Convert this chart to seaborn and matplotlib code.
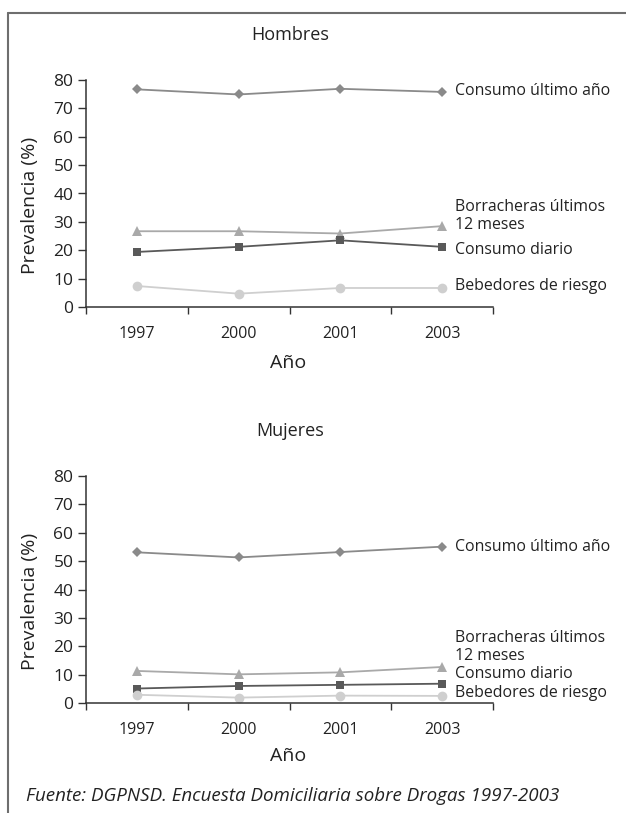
import pandas as pd
import matplotlib.pyplot as plt
import seaborn as sns
from matplotlib.lines import Line2D

# Data
years = ['1997', '2000', '2001', '2003']
series = ['Consumo último año', 'Borracheras últimos\n12 meses', 'Consumo diario', 'Bebedores de riesgo']

hombres_ultimo_ano = [76.7, 74.9, 76.9, 75.8]
hombres_borracheras = [26.7, 26.7, 25.9, 28.5]
hombres_diario = [19.4, 21.2, 23.5, 21.2]
hombres_riesgo = [7.4, 4.7, 6.7, 6.7]

mujeres_ultimo_ano = [53.1, 51.3, 53.2, 55.1]
mujeres_borracheras = [11.3, 10.1, 10.8, 12.7]
mujeres_diario = [5.1, 6.0, 6.4, 6.8]
mujeres_riesgo = [2.9, 1.9, 2.6, 2.5]

y_ticks = [0, 10, 20, 30, 40, 50, 60, 70, 80]


def long_table(vals):
    rows = []
    for name, v in zip(series, vals):
        for yr, val in zip(years, v):
            rows.append({'Año': yr, 'Serie': name, 'Prevalencia': val})
    return pd.DataFrame(rows)


df_h = long_table([hombres_ultimo_ano, hombres_borracheras, hombres_diario, hombres_riesgo])
df_m = long_table([mujeres_ultimo_ano, mujeres_borracheras, mujeres_diario, mujeres_riesgo])

sns.set_style('white')
plt.rcParams['font.family'] = ['Open Sans', 'DejaVu Sans']

palette = dict(zip(series, ['#8a8a8a', '#a9a9a9', '#595959', '#cfcfcf']))
markers = ['D', '^', 's', 'o']
msizes = [5.5, 7, 6, 7]
txt = '#222222'

W, H = 626, 813
fig = plt.figure(figsize=(W / 100, H / 100), dpi=100)

# frame lines (left and top only)
fig.add_artist(Line2D([8 / W, 8 / W], [0, 1 - 13 / H], color='#6e6e6e', lw=1.5))
fig.add_artist(Line2D([8 / W, 1], [1 - 13 / H, 1 - 13 / H], color='#6e6e6e', lw=1.5))


def panel(df, bottom_px, title, label_y):
    top_px = bottom_px - 227
    ax = fig.add_axes([86 / W, 1 - bottom_px / H, 407 / W, 227 / H])
    sns.pointplot(data=df, x='Año', y='Prevalencia', hue='Serie', order=years,
                  hue_order=series, palette=palette, markers=markers, linestyles='-',
                  errorbar=None, ax=ax, legend=False, linewidth=1.3)
    # per-series marker sizes
    for line, ms in zip(ax.lines, msizes):
        line.set_markersize(ms)
        line.set_markeredgewidth(0)
    ax.set_xlim(-0.5, 3.5)
    ax.set_ylim(0, 80)
    ax.set_yticks(y_ticks)
    ax.set_xticks(range(len(years)))
    ax.set_xticklabels(years)
    ax.set_xticks([-0.5, 0.5, 1.5, 2.5, 3.5], minor=True)
    ax.tick_params(axis='x', which='major', length=0, pad=14, labelsize=11.5, labelcolor=txt)
    ax.tick_params(axis='x', which='minor', length=5, width=1, color='#333333', direction='out', bottom=True)
    ax.tick_params(axis='y', length=6, width=1, color='#333333', direction='out', left=True,
                   labelsize=12.5, labelcolor=txt, pad=3)
    for s in ['top', 'right']:
        ax.spines[s].set_visible(False)
    for s in ['left', 'bottom']:
        ax.spines[s].set_color('#333333')
        ax.spines[s].set_linewidth(1.1)
    ax.set_xlabel('')
    ax.set_ylabel('')
    for name, yv in zip(series, label_y):
        ax.text(3.13, yv, name, fontsize=11.4, color=txt, va='center', ha='left',
                linespacing=1.15)
    fig.text(290 / W, 1 - (top_px - 45) / H, title, fontsize=13, ha='center', va='center', color=txt)
    fig.text(30 / W, 1 - (top_px + 125) / H, 'Prevalencia (%)', fontsize=14, rotation=90,
             ha='center', va='center', color=txt)
    return ax


panel(df_h, 307, 'Hombres', [76.1, 32.0, 20.1, 7.4])
panel(df_m, 703, 'Mujeres', [55.0, 19.8, 10.2, 3.5])

fig.text(288 / W, 1 - 363 / H, 'Año', fontsize=14, ha='center', va='center', color=txt)
fig.text(288 / W, 1 - 756 / H, 'Año', fontsize=14, ha='center', va='center', color=txt)
fig.text(26 / W, 1 - 796 / H, 'Fuente: DGPNSD. Encuesta Domiciliaria sobre Drogas 1997-2003',
         fontsize=13.5, style='italic', ha='left', va='center', color=txt)

fig.savefig('out.png', dpi=100)
